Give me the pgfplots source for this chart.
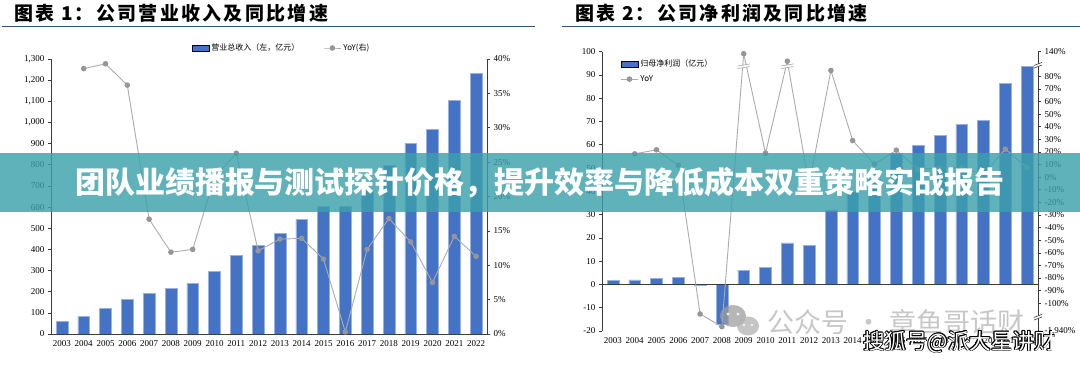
\documentclass[border=0pt]{standalone}
\usepackage{pgfplots}
\pgfplotsset{compat=1.18}
\usepackage{pgfplotstable}
\usepackage{fontspec}
\setmainfont{Liberation Serif}
\newfontfamily\cjk{Noto Sans CJK SC}
\newfontfamily\cjkt[LetterSpace=12]{Noto Sans CJK SC}
\definecolor{barblue}{RGB}{68,114,196}
\definecolor{lgrey}{RGB}{172,172,176}
\definecolor{mgrey}{RGB}{150,150,154}
\definecolor{tline}{RGB}{52,84,120}
\definecolor{banner}{RGB}{60,160,172}
\definecolor{axgrey}{RGB}{60,60,60}

\pgfplotstableread{
x rev yoy
0 60 nan
1 85 38.6
2 120 39.3
3 165 36.2
4 192 16.7
5 216 11.9
6 241 12.3
7 296 22.8
8 372 26.3
9 418 12.1
10 475 13.8
11 542 13.9
12 602 10.9
13 605 0.3
14 680 12.3
15 798 16.8
16 902 13.4
17 968 7.5
18 1105 14.2
19 1231 11.3
}\revtab

\pgfplotstableread{
x np yoy
0 1.6 nan
1 2.0 1.85
2 2.6 2.17
3 3.0 0.95
4 -0.2 -10.85
5 -17 -11.86
6 6.1 9.79
7 7.4 1.9
8 17.9 9.2
9 16.8 -0.6
10 32 8.46
11 40 2.9
12 45 1.03
13 56.2 2.14
14 59.7 0.62
15 64.0 0.72
16 68.8 0.75
17 70.4 0.23
18 86.5 2.22
19 93.8 0.76
}\nptab

\pgfplotsset{
  mybase/.style={scale only axis, width=436pt, xmin=-0.5, xmax=19.5,
    tick label style={font=\fontsize{9}{10}\selectfont},
    /pgf/number format/assume math mode=true,
    tick align=outside, major tick length=3pt,
    axis line style={axgrey, line width=0.6pt},
    tick style={axgrey, line width=0.6pt}},
  yrs/.style={xtick={0,1,2,3,4,5,6,7,8,9,10,11,12,13,14,15,16,17,18,19},
    xticklabels={2003,2004,2005,2006,2007,2008,2009,2010,2011,2012,2013,2014,2015,2016,2017,2018,2019,2020,2021,2022},
    x tick style={draw=none}},
  yoyline/.style={lgrey, line width=0.9pt, mark=*, mark size=2.3pt, mark options={fill=mgrey, draw=mgrey}},
  bars/.style={ybar, bar width=11.7pt, fill=barblue, draw=barblue!55!white, line width=0.5pt},
}

\begin{document}
\begin{tikzpicture}
\path[fill=white, use as bounding box] (0,0) rectangle (1080pt,366pt);

% titles
\node[anchor=west, inner sep=0] at (14pt,352.5pt) {\cjkt\bfseries\fontsize{19}{20}\selectfont 图表 1：公司营业收入及同比增速};
\draw[tline, line width=1.3pt] (2pt,339.3pt) -- (535pt,339.3pt);
\node[anchor=west, inner sep=0] at (575pt,352.5pt) {\cjkt\bfseries\fontsize{19}{20}\selectfont 图表 2：公司净利润及同比增速};
\draw[tline, line width=1.3pt] (562pt,339.3pt) -- (1080pt,339.3pt);

% ---------- chart 1 ----------
\begin{axis}[mybase, yrs, at={(51pt,32pt)}, anchor=south west, height=275pt,
  ymin=0, ymax=1300, ytick={0,100,...,1300},
  axis y line*=left, axis x line*=bottom,
  /pgf/number format/1000 sep={,}]
\addplot[bars] table[x=x,y=rev]{\revtab};
\end{axis}
\begin{axis}[mybase, at={(51pt,32pt)}, anchor=south west, height=275pt,
  ymin=0, ymax=40, ytick={0,5,...,40}, yticklabel={\pgfmathprintnumber{\tick}\%},
  axis y line*=right, axis x line=none,
  legend style={at={(0.529,1.04)}, anchor=center, draw=none, fill=none,
    font=\cjk\fontsize{8}{9}\selectfont,
    /tikz/every even column/.append style={column sep=22pt}},
  legend columns=2]
\addlegendimage{area legend, fill=barblue, draw=none}
\addlegendentry{营业总收入（左，亿元）}
\addplot[yoyline] table[x=x,y=yoy]{\revtab};
\addlegendentry{YoY(右)}
\end{axis}

% ---------- chart 2 ----------
\begin{axis}[mybase, yrs, at={(602pt,35pt)}, anchor=south west, height=279.3pt,
  ymin=-20, ymax=100, ytick={-20,-10,...,100},
  axis y line*=left, axis x line*=bottom, x axis line style={draw=none}]
\addplot[bars] table[x=x,y=np]{\nptab};
\draw[axgrey, line width=0.6pt] (axis cs:-0.5,0) -- (axis cs:19.5,0);
\end{axis}
\begin{axis}[mybase, at={(602pt,35pt)}, anchor=south west, height=279.3pt,
  ymin=-12.2, ymax=9.95, clip=false,
  ytick={-12.2,-10,-9,-8,-7,-6,-5,-4,-3,-2,-1,0,1,2,3,4,5,6,7,8,9.95},
  yticklabels={{-1,940\%},-100\%,-90\%,-80\%,-70\%,-60\%,-50\%,-40\%,-30\%,-20\%,-10\%,0\%,10\%,20\%,30\%,40\%,50\%,60\%,70\%,80\%,140\%},
  axis y line*=right, axis x line=none,
  legend style={at={(0.035,0.985)}, anchor=north west, draw=none, fill=none,
    font=\cjk\fontsize{8}{9}\selectfont, row sep=3pt},
  legend cell align=left]
\addlegendimage{area legend, fill=barblue, draw=none}
\addlegendentry{归母净利润（亿元）}
\addplot[yoyline] table[x=x,y=yoy]{\nptab};
\addlegendentry{YoY}
% break marks on the line
\fill[white] (axis cs:6,8.81) ++(-6pt,-2.5pt) -- ++(12pt,2pt) -- ++(0pt,2.6pt) -- ++(-12pt,-2pt) -- cycle;
\draw[lgrey, line width=0.7pt] (axis cs:6,8.81) ++(-6pt,-2.5pt) -- ++(12pt,2pt);
\draw[lgrey, line width=0.7pt] (axis cs:6,8.81) ++(-6pt,0.1pt) -- ++(12pt,2pt);
\fill[white] (axis cs:8,8.81) ++(-6pt,-2.5pt) -- ++(12pt,2pt) -- ++(0pt,2.6pt) -- ++(-12pt,-2pt) -- cycle;
\draw[lgrey, line width=0.7pt] (axis cs:8,8.81) ++(-6pt,-2.5pt) -- ++(12pt,2pt);
\draw[lgrey, line width=0.7pt] (axis cs:8,8.81) ++(-6pt,0.1pt) -- ++(12pt,2pt);
% break marks on the right axis
\fill[white] (axis cs:19.5,8.89) ++(-4pt,-3pt) -- ++(8pt,3pt) -- ++(0pt,2.6pt) -- ++(-8pt,-3pt) -- cycle;
\draw[axgrey, line width=0.6pt] (axis cs:19.5,8.89) ++(-4pt,-3pt) -- ++(8pt,3pt);
\draw[axgrey, line width=0.6pt] (axis cs:19.5,8.89) ++(-4pt,-0.4pt) -- ++(8pt,3pt);
\fill[white] (axis cs:19.5,-11.09) ++(-4pt,-3pt) -- ++(8pt,3pt) -- ++(0pt,2.6pt) -- ++(-8pt,-3pt) -- cycle;
\draw[axgrey, line width=0.6pt] (axis cs:19.5,-11.09) ++(-4pt,-3pt) -- ++(8pt,3pt);
\draw[axgrey, line width=0.6pt] (axis cs:19.5,-11.09) ++(-4pt,-0.4pt) -- ++(8pt,3pt);
\end{axis}

% ---------- overlays ----------
\fill[banner, opacity=0.82] (0,154pt) rectangle (1080pt,213pt);
\node[white, inner sep=0] at (540pt,183pt) {\cjk\bfseries\fontsize{30}{32}\selectfont 团队业绩播报与测试探针价格，提升效率与降低成本双重策略实战报告};

% wechat style logo watermark
\fill[black!38, opacity=0.75] (733pt,50pt) ellipse (13pt and 11pt);
\fill[black!30, opacity=0.75] (748pt,40pt) ellipse (11pt and 9.5pt);
\fill[white, opacity=0.8] (728pt,52pt) circle (1.6pt) (738pt,52pt) circle (1.6pt);
\fill[white, opacity=0.8] (744pt,41pt) circle (1.3pt) (752pt,41pt) circle (1.3pt);
\node[anchor=west, inner sep=0, text=black!22] at (767pt,44pt) {\cjk\fontsize{27}{29}\selectfont 公众号\hspace{7pt}·\hspace{7pt}章鱼哥话财};

% outlined watermark
\foreach \dx/\dy in {-0.8/0,0.8/0,0/-0.8,0/0.8,-0.6/-0.6,0.6/0.6,-0.6/0.6,0.6/-0.6} {
  \node[anchor=west, inner sep=0, text=black] at ({863pt+\dx pt},{24pt+\dy pt}) {\cjk\fontsize{21.5}{23}\selectfont 搜狐号@派大星讲财};
}
\node[anchor=west, inner sep=0, text=white] at (863pt,24pt) {\cjk\fontsize{21.5}{23}\selectfont 搜狐号@派大星讲财};
\end{tikzpicture}
\end{document}
